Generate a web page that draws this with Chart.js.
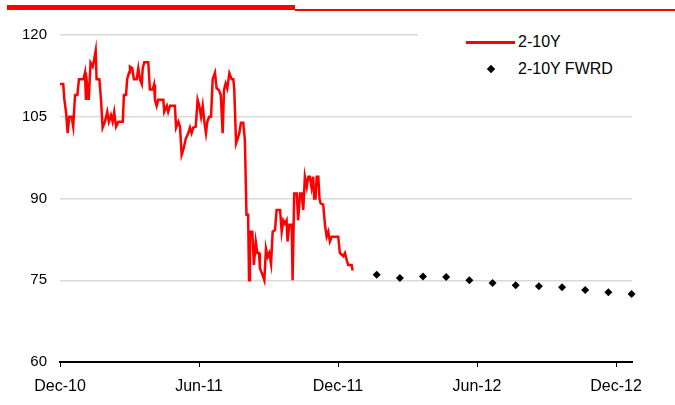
<!DOCTYPE html>
<html>
<head>
<meta charset="utf-8">
<script src="https://cdn.jsdelivr.net/npm/chart.js@4.4.1/dist/chart.umd.min.js"></script>
<style>
  body { margin: 0; background: #fff; }
  #wrap { position: relative; width: 675px; height: 405px; font-family: "Liberation Sans", Arial, sans-serif; }
  .bar { position: absolute; background: #ff0000; }
  #legend { position: absolute; left: 418px; top: 28px; width: 216px; height: 52px; background: #fff; }
  #legend .txt { position: absolute; left: 100px; font-size: 16px; line-height: 18px; color: #000; white-space: nowrap; }
</style>
</head>
<body>
<div id="wrap">
  <canvas id="chart"></canvas>
  <div class="bar" style="left:7px;top:5px;width:288px;height:5px"></div>
  <div class="bar" style="left:295px;top:9px;width:380px;height:2px"></div>
  <div id="legend">
    <div style="position:absolute;left:48px;top:13px;width:49px;height:2.5px;background:#ff0000"></div>
    <div class="txt" style="top:5px">2-10Y</div>
    <div style="position:absolute;left:70px;top:38px;width:6px;height:6px;background:#000;transform:rotate(45deg)"></div>
    <div class="txt" style="top:32px">2-10Y FWRD</div>
  </div>
</div>
<script>
// x values are months since Dec-10
var tickMonths = [0, 6, 12, 18, 24]
var tickLabels = ["Dec-10", "Jun-11", "Dec-11", "Jun-12", "Dec-12"]

var spotMonths = [0, 0.14, 0.19, 0.26, 0.33, 0.40, 0.50, 0.57, 0.65, 0.75, 0.82, 1.01, 1.08, 1.12, 1.18, 1.24,
  1.32, 1.41, 1.47, 1.54, 1.58, 1.70, 1.77, 1.84, 1.94, 2.04, 2.11, 2.20, 2.27, 2.34, 2.42, 2.52, 2.71,
  2.76, 2.85, 2.90, 2.98, 3.02, 3.12, 3.19, 3.31, 3.38, 3.45, 3.53, 3.57, 3.64, 3.81, 3.88, 4.00, 4.06,
  4.10, 4.17, 4.24, 4.46, 4.50, 4.61, 4.67, 4.75, 4.96, 5.01, 5.11, 5.18, 5.25, 5.32, 5.43, 5.54, 5.61,
  5.68, 5.75, 5.86, 5.94, 6.01, 6.09, 6.16, 6.23, 6.30, 6.36, 6.44, 6.52, 6.59, 6.69, 6.76, 6.86, 6.94,
  7.02, 7.08, 7.15, 7.22, 7.31, 7.41, 7.48, 7.52, 7.60, 7.67, 7.74, 7.81, 7.91, 7.98, 8.05, 8.12, 8.16,
  8.20, 8.30, 8.37, 8.45, 8.52, 8.59, 8.63, 8.75, 8.82, 8.89, 8.96, 9.03, 9.11, 9.18, 9.28, 9.35, 9.50,
  9.57, 9.64, 9.71, 9.78, 9.82, 9.90, 10.00, 10.04, 10.11, 10.22, 10.28, 10.36, 10.43, 10.50, 10.57,
  10.65, 10.72, 10.79, 10.86, 10.93, 10.97, 11.03, 11.08, 11.15, 11.20, 11.25, 11.36, 11.44, 11.51,
  11.58, 11.65, 11.73, 12.01, 12.08, 12.23, 12.30, 12.37, 12.44, 12.59, 12.63]
var spotValues = [111.0, 111.0, 108.1, 105.9, 102.0, 105.0, 105.0, 103.2, 109.0, 109.0, 111.9, 111.9, 113.1, 108.1, 110.5, 108.1,
  114.9, 114.2, 115.4, 117.1, 111.9, 111.9, 108.1, 103.0, 104.1, 105.9, 104.1, 105.3, 104.1, 105.9, 103.2, 104.1, 104.1,
  109.0, 109.0, 111.9, 113.1, 114.2, 113.9, 111.9, 111.9, 113.9, 111.9, 111.0, 113.9, 115.0, 115.0, 110.0, 110.0, 110.9,
  108.1, 107.0, 108.1, 108.1, 105.9, 107.0, 105.9, 107.0, 107.0, 103.0, 104.1, 103.2, 98.0, 98.9, 101.0, 102.0, 103.0,
  102.0, 103.0, 103.2, 108.1, 107.0, 105.0, 107.0, 104.1, 102.0, 104.1, 105.0, 105.0, 111.9, 113.1, 110.2, 109.9, 109.0,
  102.0, 109.9, 111.1, 110.2, 113.0, 111.9, 111.9, 110.2, 100.1, 101.0, 102.0, 103.9, 103.9, 100.7, 87.0, 87.0, 75.0,
  83.9, 83.9, 77.8, 82.1, 80.0, 80.0, 77.2, 75.9, 75.0, 80.8, 79.3, 80.0, 78.0, 83.9, 84.2, 87.9, 87.9,
  83.9, 86.0, 85.4, 86.0, 82.1, 85.2, 85.2, 75.0, 90.9, 90.9, 86.0, 90.9, 90.9, 87.9, 94.0,
  92.1, 94.0, 94.0, 92.0, 94.0, 90.0, 90.0, 94.0, 94.0, 90.0, 89.1, 88.9, 85.1, 83.0,
  83.9, 82.1, 83.0, 83.0, 80.0, 79.4, 80.0, 78.8, 77.8, 77.8, 76.8]

var fwrdMonths = [13.67, 14.67, 15.67, 16.67, 17.67, 18.67, 19.67, 20.67, 21.67, 22.67, 23.67, 24.67]
var fwrdValues = [76.0, 75.4, 75.7, 75.6, 75.0, 74.5, 74.1, 73.9, 73.7, 73.2, 72.8, 72.5]

var fontFamily = '"Liberation Sans", Arial, sans-serif'

function pairs(xs, ys) {
  return xs.map(function (x, i) { return { x: x, y: ys[i] } })
}

new Chart("chart", {
  type: "line",
  data: {
    datasets: [{
      label: "2-10Y",
      data: pairs(spotMonths, spotValues),
      borderColor: "#ff0000",
      borderWidth: 2.5,
      pointRadius: 0,
      tension: 0,
      fill: false
    }, {
      label: "2-10Y FWRD",
      data: pairs(fwrdMonths, fwrdValues),
      showLine: false,
      pointStyle: "rectRot",
      pointRadius: 4,
      pointBackgroundColor: "#000",
      pointBorderColor: "#000",
      pointBorderWidth: 0,
      clip: false
    }]
  },
  options: {
    responsive: true,
    maintainAspectRatio: false,
    animation: false,
    layout: { padding: { top: 35, right: 43, left: 0, bottom: 0 } },
    plugins: { legend: { display: false }, tooltip: { enabled: false } },
    scales: {
      x: {
        type: "linear",
        min: 0,
        max: 24.69,
        afterBuildTicks: function (s) { s.ticks = tickMonths.map(function (v) { return { value: v } }) },
        afterFit: function (s) { s.height = 43 },
        grid: { drawOnChartArea: false, drawTicks: true, tickLength: 5, color: "#000", lineWidth: 1 },
        border: { color: "#000", width: 2 },
        ticks: {
          autoSkip: false,
          maxRotation: 0,
          padding: 10,
          color: "#000",
          font: { size: 16, family: fontFamily },
          callback: function (v) { return tickLabels[tickMonths.indexOf(v)] }
        }
      },
      y: {
        min: 60,
        max: 120,
        afterFit: function (s) { s.width = 60 },
        grid: { color: "#d9d9d9", lineWidth: 1.5, drawTicks: false },
        border: { display: false },
        ticks: {
          stepSize: 15,
          padding: 13,
          color: "#000",
          font: { size: 15, family: fontFamily }
        }
      }
    }
  }
})
</script>
</body>
</html>
